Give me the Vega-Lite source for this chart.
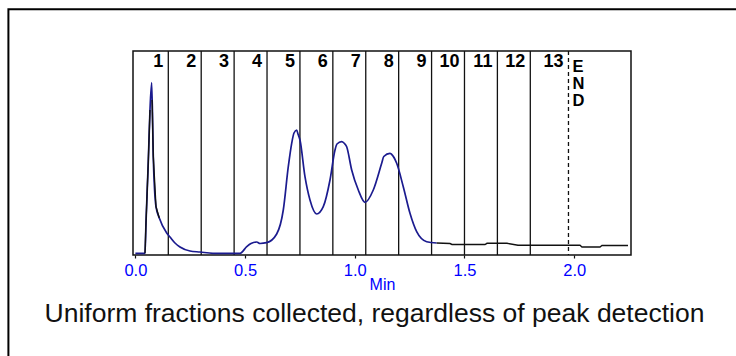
{
  "$schema": "https://vega.github.io/schema/vega-lite/v6.json",
  "width": 498,
  "height": 204,
  "autosize": {"type": "none"},
  "padding": {"left": 133, "top": 51, "right": 105, "bottom": 101},
  "background": "white",
  "config": {
    "font": "Liberation Sans",
    "view": {"stroke": "#111111", "strokeWidth": 1.5},
    "axisX": {
      "domain": false,
      "grid": false,
      "format": ".1f",
      "labelColor": "#0000ff",
      "labelFont": "Liberation Sans",
      "labelFontSize": 16.5,
      "labelPadding": 4,
      "tickColor": "#111111",
      "tickSize": 3,
      "tickWidth": 1.2,
      "titleColor": "#0000ff",
      "titleFont": "Liberation Sans",
      "titleFontSize": 16,
      "titleFontWeight": "normal",
      "titlePadding": -2
    }
  },
  "datasets": {
    "trace": [
      {"t": 0, "v": 1.7, "s": "main"},
      {"t": 0.0438, "v": 1.7, "s": "main"},
      {"t": 0.0483, "v": 32, "s": "main"},
      {"t": 0.0588, "v": 93.3, "s": "main"},
      {"t": 0.0665, "v": 145, "s": "main"},
      {"t": 0.0743, "v": 172.3, "s": "main"},
      {"t": 0.0816, "v": 98.3, "s": "main"},
      {"t": 0.0939, "v": 48.3, "s": "main"},
      {"t": 0.1089, "v": 37, "s": "main"},
      {"t": 0.1427, "v": 22, "s": "main"},
      {"t": 0.1577, "v": 18, "s": "main"},
      {"t": 0.1805, "v": 12, "s": "main"},
      {"t": 0.2033, "v": 8, "s": "main"},
      {"t": 0.2489, "v": 4, "s": "main"},
      {"t": 0.2944, "v": 3, "s": "main"},
      {"t": 0.3537, "v": 1.7, "s": "main"},
      {"t": 0.4768, "v": 1.7, "s": "main"},
      {"t": 0.5073, "v": 8.3, "s": "main"},
      {"t": 0.5269, "v": 11.5, "s": "main"},
      {"t": 0.5529, "v": 13, "s": "main"},
      {"t": 0.5679, "v": 11.5, "s": "main"},
      {"t": 0.5984, "v": 12.3, "s": "main"},
      {"t": 0.644, "v": 21, "s": "main"},
      {"t": 0.6741, "v": 45, "s": "main"},
      {"t": 0.6969, "v": 88.3, "s": "main"},
      {"t": 0.7124, "v": 111.7, "s": "main"},
      {"t": 0.7229, "v": 122, "s": "main"},
      {"t": 0.7352, "v": 125, "s": "main"},
      {"t": 0.7411, "v": 121, "s": "main"},
      {"t": 0.7502, "v": 115, "s": "main"},
      {"t": 0.773, "v": 78.3, "s": "main"},
      {"t": 0.7958, "v": 55, "s": "main"},
      {"t": 0.8263, "v": 41, "s": "main"},
      {"t": 0.8564, "v": 48.3, "s": "main"},
      {"t": 0.887, "v": 75, "s": "main"},
      {"t": 0.9098, "v": 105, "s": "main"},
      {"t": 0.9188, "v": 111, "s": "main"},
      {"t": 0.9403, "v": 113.3, "s": "main"},
      {"t": 0.9508, "v": 112, "s": "main"},
      {"t": 0.9631, "v": 108.3, "s": "main"},
      {"t": 0.9859, "v": 85, "s": "main"},
      {"t": 1.016, "v": 65, "s": "main"},
      {"t": 1.0465, "v": 52.7, "s": "main"},
      {"t": 1.0843, "v": 65, "s": "main"},
      {"t": 1.1226, "v": 91.7, "s": "main"},
      {"t": 1.1321, "v": 98.5, "s": "main"},
      {"t": 1.1604, "v": 101.7, "s": "main"},
      {"t": 1.1663, "v": 101, "s": "main"},
      {"t": 1.191, "v": 91.7, "s": "main"},
      {"t": 1.221, "v": 68.3, "s": "main"},
      {"t": 1.2516, "v": 41.7, "s": "main"},
      {"t": 1.2821, "v": 23.3, "s": "main"},
      {"t": 1.3277, "v": 13.3, "s": "main"},
      {"t": 1.3733, "v": 12, "s": "main"},
      {"t": 0.0438, "v": 1.7, "s": "k1"},
      {"t": 0.0483, "v": 32, "s": "k1"},
      {"t": 0.0588, "v": 93.3, "s": "k1"},
      {"t": 0.0665, "v": 145, "s": "k1"},
      {"t": 0.076, "v": 155, "s": "k2"},
      {"t": 0.0816, "v": 98.3, "s": "k2"},
      {"t": 0.0939, "v": 48.3, "s": "k2"},
      {"t": 0.1089, "v": 37, "s": "k2"},
      {"t": 1.3733, "v": 12, "s": "k3"},
      {"t": 1.4339, "v": 11.5, "s": "k3"},
      {"t": 1.443, "v": 10.5, "s": "k3"},
      {"t": 1.5935, "v": 10.5, "s": "k3"},
      {"t": 1.6026, "v": 11.7, "s": "k3"},
      {"t": 1.6937, "v": 11.7, "s": "k3"},
      {"t": 1.7439, "v": 9.7, "s": "k3"},
      {"t": 2.0264, "v": 9.7, "s": "k3"},
      {"t": 2.0355, "v": 8, "s": "k3"},
      {"t": 2.1176, "v": 8, "s": "k3"},
      {"t": 2.1267, "v": 9.5, "s": "k3"},
      {"t": 2.2452, "v": 9.5, "s": "k3"}
    ],
    "fractions": [
      {"x": 0.15, "label": "1", "kind": "solid"},
      {"x": 0.3, "label": "2", "kind": "solid"},
      {"x": 0.45, "label": "3", "kind": "solid"},
      {"x": 0.6, "label": "4", "kind": "solid"},
      {"x": 0.75, "label": "5", "kind": "solid"},
      {"x": 0.9, "label": "6", "kind": "solid"},
      {"x": 1.05, "label": "7", "kind": "solid"},
      {"x": 1.2, "label": "8", "kind": "solid"},
      {"x": 1.35, "label": "9", "kind": "solid"},
      {"x": 1.5, "label": "10", "kind": "solid"},
      {"x": 1.65, "label": "11", "kind": "solid"},
      {"x": 1.8, "label": "12", "kind": "solid"},
      {"x": 1.974, "label": "13", "kind": "dash"}
    ]
  },
  "layer": [
    {
      "data": {"values": [{"name": "frame"}]},
      "mark": {"type": "rect", "fill": null, "fillOpacity": 0, "stroke": "#000000", "strokeWidth": 2, "clip": false},
      "encoding": {
        "x": {"datum": -0.5788, "type": "quantitative", "scale": {"domain": [-0.0109, 2.259]}, "axis": {"values": [0, 0.5, 1, 1.5, 2], "title": "Min"}},
        "x2": {"datum": 2.9},
        "y": {"datum": 245.7, "type": "quantitative", "scale": {"domain": [0, 204]}, "axis": null},
        "y2": {"datum": -140}
      }
    },
    {
      "data": {"name": "fractions"},
      "transform": [{"filter": "datum.kind == 'solid'"}],
      "mark": {"type": "rule", "color": "#111111", "strokeWidth": 1.3},
      "encoding": {
        "x": {"field": "x", "type": "quantitative", "scale": {"domain": [-0.0109, 2.259]}, "axis": {"values": [0, 0.5, 1, 1.5, 2], "title": "Min"}}
      }
    },
    {
      "data": {"name": "fractions"},
      "transform": [{"filter": "datum.kind == 'dash'"}],
      "mark": {"type": "rule", "color": "#111111", "strokeWidth": 1.3, "strokeDash": [4, 3]},
      "encoding": {
        "x": {"field": "x", "type": "quantitative", "scale": {"domain": [-0.0109, 2.259]}, "axis": {"values": [0, 0.5, 1, 1.5, 2], "title": "Min"}}
      }
    },
    {
      "data": {"name": "trace"},
      "transform": [{"filter": "datum.s == 'main'"}],
      "mark": {"type": "line", "color": "#1b1b8f", "strokeWidth": 1.7, "interpolate": "monotone"},
      "encoding": {
        "x": {"field": "t", "type": "quantitative", "scale": {"domain": [-0.0109, 2.259]}, "axis": {"values": [0, 0.5, 1, 1.5, 2], "title": "Min"}},
        "y": {"field": "v", "type": "quantitative", "scale": {"domain": [0, 204]}, "axis": null},
        "order": {"field": "t", "type": "quantitative"}
      }
    },
    {
      "data": {"name": "trace"},
      "transform": [{"filter": "datum.s != 'main'"}],
      "mark": {"type": "line", "color": "#111111", "strokeWidth": 1.4},
      "encoding": {
        "x": {"field": "t", "type": "quantitative", "scale": {"domain": [-0.0109, 2.259]}, "axis": {"values": [0, 0.5, 1, 1.5, 2], "title": "Min"}},
        "y": {"field": "v", "type": "quantitative", "scale": {"domain": [0, 204]}, "axis": null},
        "detail": {"field": "s", "type": "nominal"},
        "order": {"field": "t", "type": "quantitative"}
      }
    },
    {
      "data": {"name": "fractions"},
      "mark": {"type": "text", "font": "Liberation Sans", "fontSize": 18, "fontWeight": "bold", "color": "#000000", "align": "right", "baseline": "alphabetic", "dx": -5, "dy": 15.5},
      "encoding": {
        "x": {"field": "x", "type": "quantitative", "scale": {"domain": [-0.0109, 2.259]}, "axis": {"values": [0, 0.5, 1, 1.5, 2], "title": "Min"}},
        "y": {"datum": 204, "type": "quantitative", "scale": {"domain": [0, 204]}, "axis": null},
        "text": {"field": "label"}
      }
    },
    {
      "data": {"values": [{"x": 1.974, "label": "E\nN\nD"}]},
      "mark": {"type": "text", "font": "Liberation Sans", "fontSize": 16.5, "fontWeight": "bold", "color": "#000000", "align": "left", "baseline": "alphabetic", "dx": 4, "dy": 20.7, "lineBreak": "\n", "lineHeight": 17},
      "encoding": {
        "x": {"field": "x", "type": "quantitative", "scale": {"domain": [-0.0109, 2.259]}, "axis": {"values": [0, 0.5, 1, 1.5, 2], "title": "Min"}},
        "y": {"datum": 204, "type": "quantitative", "scale": {"domain": [0, 204]}, "axis": null},
        "text": {"field": "label"}
      }
    },
    {
      "data": {"values": [{"x": 1.0898, "y": -66.7, "caption": "Uniform fractions collected, regardless of peak detection"}]},
      "mark": {"type": "text", "font": "Liberation Sans", "fontSize": 26.5, "fontWeight": "normal", "color": "#111111", "align": "center", "baseline": "alphabetic", "clip": false},
      "encoding": {
        "x": {"field": "x", "type": "quantitative", "scale": {"domain": [-0.0109, 2.259]}, "axis": {"values": [0, 0.5, 1, 1.5, 2], "title": "Min"}},
        "y": {"field": "y", "type": "quantitative", "scale": {"domain": [0, 204]}, "axis": null},
        "text": {"field": "caption"}
      }
    }
  ]
}
